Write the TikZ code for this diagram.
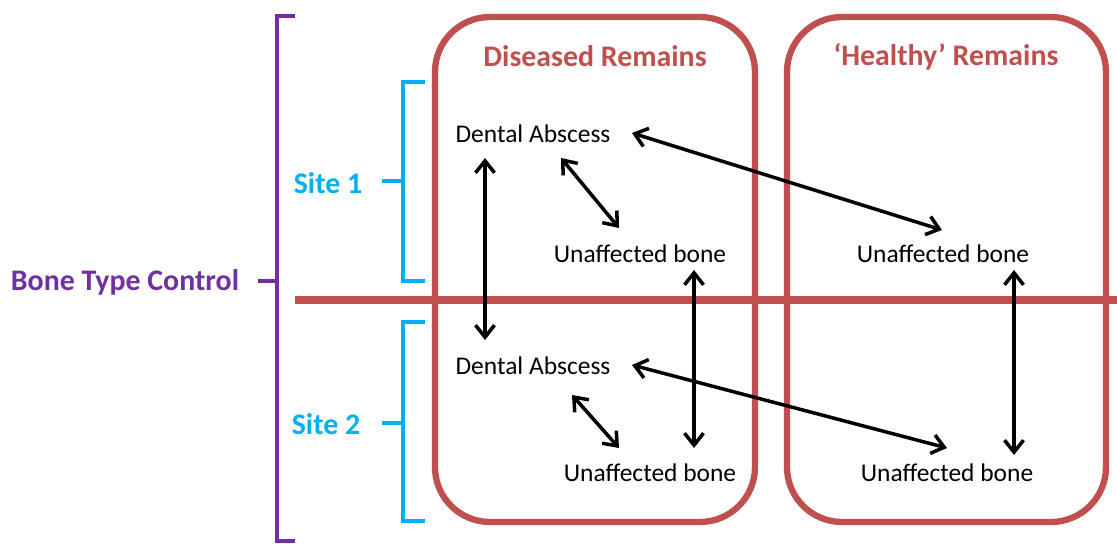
\documentclass[tikz,border=0pt]{standalone}
\usepackage{fontspec}
\setmainfont{Carlito}
\usetikzlibrary{arrows.meta,calc}
\definecolor{remred}{HTML}{C0504D}
\definecolor{ctrlpurple}{HTML}{7030A0}
\definecolor{siteblue}{HTML}{00B0F0}
\begin{document}
\begin{tikzpicture}[x=0.02cm,y=-0.02cm,
  remains/.style={draw=remred,line width=3.6pt,rounded corners=1.1cm},
  sample/.style={font=\fontsize{14.5}{17}\selectfont,inner sep=1pt},
  heading/.style={font=\fontsize{17}{20}\selectfont\bfseries,inner sep=1pt},
  bracket/.style={line width=2.6pt},
  both/.style={{Straight Barb[length=2.4mm,width=3.8mm]}-{Straight Barb[length=2.4mm,width=3.8mm]},line width=2pt}]
  \useasboundingbox (0,0) rectangle (1117,544);
  % the two groups of remains
  \draw[remains] (435,17) rectangle (755,522);
  \draw[remains] (787,17) rectangle (1106,522);
  \draw[remred,line width=5pt] (295,300) -- (1117,300);
  \node[heading,remred] (dis) at (595,56) {Diseased Remains};
  \node[heading,remred] (hea) at (946,57) {‘Healthy’ Remains};
  % bone type and site brackets
  \draw[bracket,ctrlpurple] (295,16) -- (277,16) -- (277,541) -- (295,541);
  \draw[bracket,ctrlpurple] (277,281) -- (258,281);
  \node[heading,ctrlpurple] (btc) at (125,282) {Bone Type Control};
  \draw[bracket,siteblue] (425,82) -- (403,82) -- (403,281) -- (425,281);
  \draw[bracket,siteblue] (403,181) -- (382,181);
  \node[heading,siteblue] (site1) at (328,183) {Site 1};
  \draw[bracket,siteblue] (425,322) -- (403,322) -- (403,521) -- (425,521);
  \draw[bracket,siteblue] (403,423) -- (382,423);
  \node[heading,siteblue] (site2) at (326,424) {Site 2};
  % samples
  \node[sample] (da1) at (533,134) {Dental Abscess};
  \node[sample] (ub1) at (640,254) {Unaffected bone};
  \node[sample] (ub2) at (943,254) {Unaffected bone};
  \node[sample] (da2) at (533,366) {Dental Abscess};
  \node[sample] (ub3) at (650,473) {Unaffected bone};
  \node[sample] (ub4) at (947,473) {Unaffected bone};
  % comparisons
  \draw[both] ($(da1)+(-48,24)$) -- ($(da2)+(-48,-26)$);
  \draw[both] ($(da1)+(28,24)$) -- ($(ub1)+(-21,-26)$);
  \draw[both] ($(da1)+(99,-1)$) -- ($(ub2)+(-1,-24)$);
  \draw[both] ($(ub1)+(54,16)$) -- ($(ub3)+(44,-25)$);
  \draw[both] ($(ub2)+(71,16)$) -- ($(ub4)+(67,-18)$);
  \draw[both] ($(da2)+(39,29)$) -- ($(ub3)+(-31,-25)$);
  \draw[both] ($(da2)+(99,-1)$) -- ($(ub4)+(0,-25)$);
\end{tikzpicture}
\end{document}
